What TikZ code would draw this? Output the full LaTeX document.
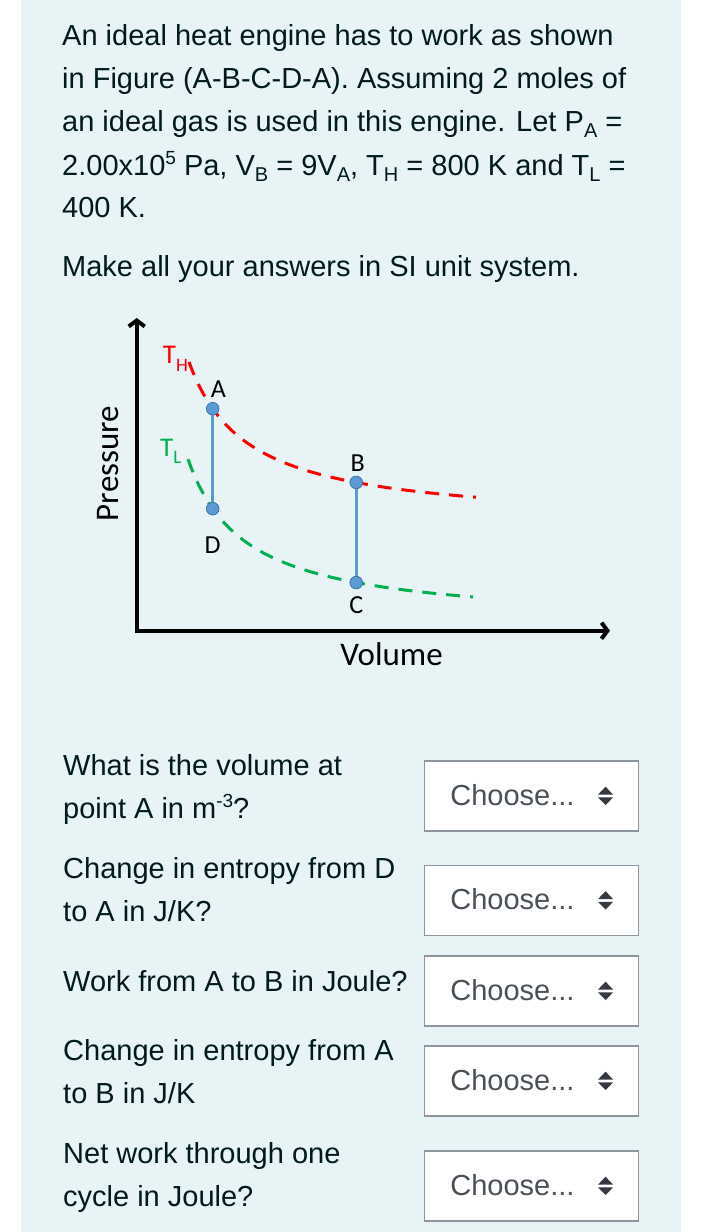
\documentclass[tikz,border=0pt]{standalone}
\usepackage{fontspec}
\setmainfont{Liberation Sans}
\newfontfamily\plotfont{Carlito}
\usepackage{xcolor}
\usepackage{tikz}
\usetikzlibrary{arrows.meta, positioning, calc}

\definecolor{panelbg}{HTML}{E7F3F5}
\definecolor{qtext}{HTML}{001A1E}
\definecolor{boxline}{HTML}{8F959E}
\definecolor{choosegray}{HTML}{495057}
\definecolor{caretgray}{HTML}{343A40}
\definecolor{hotred}{HTML}{FF0000}
\definecolor{coldgreen}{HTML}{00B050}
\definecolor{stepblue}{HTML}{5B9BD5}
\definecolor{dotedge}{HTML}{41719C}

\newcommand\bodyfont{\fontsize{29}{35}\selectfont}
\newcommand\lowpart[1]{\raisebox{-6pt}{\fontsize{20}{20}\selectfont #1}}
\newcommand\highpart[1]{\raisebox{11pt}{\fontsize{19}{19}\selectfont #1}}

\tikzstyle{qline} = [anchor=base west, inner sep=0pt, text=qtext, font=\bodyfont]
\tikzstyle{selectbox} = [rectangle, draw=boxline, line width=1.5pt, fill=white, minimum width=214pt, minimum height=70pt, inner sep=0pt]
\tikzstyle{choose} = [anchor=base west, inner sep=0pt, text=choosegray, font=\bodyfont]
\tikzstyle{caret} = [fill=caretgray]
\tikzstyle{axisline} = [line width=4pt, {Straight Barb[length=6pt,width=16pt]}-{Straight Barb[length=6pt,width=16pt]}]
\tikzstyle{hotiso} = [hotred, line width=3pt, dash pattern=on 14pt off 10pt]
\tikzstyle{coldiso} = [coldgreen, line width=3pt, dash pattern=on 14pt off 10pt]
\tikzstyle{statept} = [circle, fill=stepblue, draw=dotedge, line width=0.6pt, minimum size=12.5pt, inner sep=0pt]
\tikzstyle{stateline} = [stepblue, line width=3pt]
\tikzstyle{ptlabel} = [inner sep=0pt, font=\plotfont\fontsize{26}{26}\selectfont]
\tikzstyle{templabel} = [anchor=base west, inner sep=0pt, font=\plotfont\fontsize{27}{27}\selectfont]

\begin{document}
\begin{tikzpicture}[x=1pt, y=-1pt]
    \useasboundingbox (0,0) rectangle (711,1232);
    \fill[panelbg] (21,0) rectangle (681,1232);

    % problem statement
    \node[qline] (top1) at (62,45.7) {An ideal heat engine has to work as shown};
    \node[qline] (top2) at (62,88.7) {in Figure (A-B-C-D-A). Assuming 2 moles of};
    \node[qline] (top3) at (62,131.7) {an ideal gas is used in this engine. Let P\lowpart{A} =};
    \node[qline] (top4) at (62,175) {2.00x10\highpart{5} Pa, V\lowpart{B} = 9V\lowpart{A}, T\lowpart{H} = 800 K and T\lowpart{L} =};
    \node[qline] (top5) at (62,217.3) {400 K.};
    \node[qline] (units) at (62,276.7) {Make all your answers in SI unit system.};

    % P-V diagram
    \coordinate (orig) at (136.7,630.7);
    \coordinate (ytop) at (136.7,318);
    \coordinate (xend) at (610,630.7);
    \draw[hotiso] plot[domain=189:476, samples=80] (\x, {525 - 9620/(\x-130)});
    \draw[coldiso] plot[domain=188:473, samples=80] (\x, {625 - 9620/(\x-130)});
    \draw[axisline] (ytop) -- (orig) -- (xend);
    \node[statept] (ptA) at (212.7,408.7) {};
    \node[statept] (ptD) at (212.7,508.7) {};
    \node[statept] (ptB) at (356.2,482.4) {};
    \node[statept] (ptC) at (356.2,582.6) {};
    \draw[stateline] (ptA) -- (ptD);
    \draw[stateline] (ptB) -- (ptC);
    \node[statept] at (ptA) {};
    \node[statept] at (ptD) {};
    \node[statept] at (ptB) {};
    \node[statept] at (ptC) {};
    \node[ptlabel, above=4pt of ptA, xshift=5.6pt] (lblA) {A};
    \node[ptlabel, above=4pt of ptB, xshift=1.6pt] (lblB) {B};
    \node[ptlabel, below=7pt of ptC] (lblC) {C};
    \node[ptlabel, below=21pt of ptD] (lblD) {D};
    \node[templabel, text=hotred] (thot) at (162.7,363.3) {T\raisebox{-8pt}{\fontsize{19}{19}\selectfont H}};
    \node[templabel, text=coldgreen] (tcold) at (160,456.7) {T\raisebox{-7pt}{\fontsize{19}{19}\selectfont L}};
    \node[inner sep=0pt, rotate=90, font=\plotfont\fontsize{33}{33}\selectfont] (plabel) at (108,463.5) {Pressure};
    \node[anchor=base, inner sep=0pt, font=\plotfont\fontsize{33}{33}\selectfont] (vlabel) at (391.5,665) {Volume};

    % questions
    \node[qline] (q1a) at (63,775) {What is the volume at};
    \node[qline] (q1b) at (63,818.3) {point A in m\highpart{-3}?};
    \node[qline] (q2a) at (63,878.5) {Change in entropy from D};
    \node[qline] (q2b) at (63,921.7) {to A in J/K?};
    \node[qline] (q3) at (63,991.7) {Work from A to B in Joule?};
    \node[qline] (q4a) at (63,1060) {Change in entropy from A};
    \node[qline] (q4b) at (63,1103.3) {to B in J/K};
    \node[qline] (q5a) at (63,1163.3) {Net work through one};
    \node[qline] (q5b) at (63,1206.7) {cycle in Joule?};

    % answer boxes
    \node[selectbox] (box1) at (531.5,796) {};
    \node[selectbox] (box2) at (531.5,900.5) {};
    \node[selectbox] (box3) at (531.5,991) {};
    \node[selectbox] (box4) at (531.5,1081) {};
    \node[selectbox] (box5) at (531.5,1186) {};
    \node[choose] (ch1) at ($(box1.west)+(26.4,9)$) {Choose...};
    \node[choose] (ch2) at ($(box2.west)+(26.4,9)$) {Choose...};
    \node[choose] (ch3) at ($(box3.west)+(26.4,9)$) {Choose...};
    \node[choose] (ch4) at ($(box4.west)+(26.4,9)$) {Choose...};
    \node[choose] (ch5) at ($(box5.west)+(26.4,9)$) {Choose...};
    \fill[caret] ($(box1.east)+(-33.7,-9.3)$) -- ++(-7.5,7.8) -- ++(15,0) -- cycle;
    \fill[caret] ($(box1.east)+(-33.7,9)$) -- ++(-7.5,-7.6) -- ++(15,0) -- cycle;
    \fill[caret] ($(box2.east)+(-33.7,-9.3)$) -- ++(-7.5,7.8) -- ++(15,0) -- cycle;
    \fill[caret] ($(box2.east)+(-33.7,9)$) -- ++(-7.5,-7.6) -- ++(15,0) -- cycle;
    \fill[caret] ($(box3.east)+(-33.7,-9.3)$) -- ++(-7.5,7.8) -- ++(15,0) -- cycle;
    \fill[caret] ($(box3.east)+(-33.7,9)$) -- ++(-7.5,-7.6) -- ++(15,0) -- cycle;
    \fill[caret] ($(box4.east)+(-33.7,-9.3)$) -- ++(-7.5,7.8) -- ++(15,0) -- cycle;
    \fill[caret] ($(box4.east)+(-33.7,9)$) -- ++(-7.5,-7.6) -- ++(15,0) -- cycle;
    \fill[caret] ($(box5.east)+(-33.7,-9.3)$) -- ++(-7.5,7.8) -- ++(15,0) -- cycle;
    \fill[caret] ($(box5.east)+(-33.7,9)$) -- ++(-7.5,-7.6) -- ++(15,0) -- cycle;
\end{tikzpicture}
\end{document}
